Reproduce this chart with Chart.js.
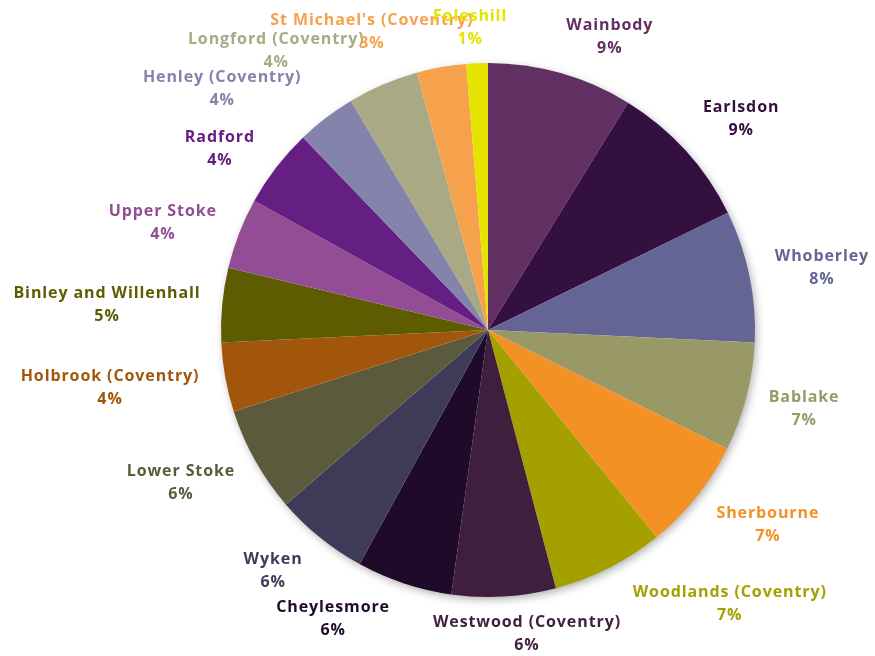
<!DOCTYPE html>
<html>
<head>
<meta charset="utf-8">
<style>
  html, body { margin: 0; padding: 0; background: #fff; }
  #wrap { width: 875px; height: 656px; }
</style>
<script src="https://cdn.jsdelivr.net/npm/chart.js@4/dist/chart.umd.min.js"></script>
</head>
<body>
<div id="wrap"><canvas id="chart1"></canvas></div>
<script>
// wards, clockwise from 12 o'clock
var wards = [
    "Wainbody", "Earlsdon", "Whoberley", "Bablake", "Sherbourne",
    "Woodlands (Coventry)", "Westwood (Coventry)", "Cheylesmore", "Wyken",
    "Lower Stoke", "Holbrook (Coventry)", "Binley and Willenhall", "Upper Stoke",
    "Radford", "Henley (Coventry)", "Longford (Coventry)", "St Michael's (Coventry)",
    "Foleshill"
];
// share of total (%)
var shares = [8.8, 9.0, 8.0, 6.6, 6.8, 6.8, 6.3, 5.8, 5.7, 6.4, 4.2, 4.5, 4.3, 4.8, 3.6, 4.3, 3.0, 1.3];
// percentages as printed on the chart
var shownPct = [9, 9, 8, 7, 7, 7, 6, 6, 6, 6, 4, 5, 4, 4, 4, 4, 3, 1];

var colours = [
    "#622f62", "#341040", "#646495", "#999968", "#f39124",
    "#a3a000", "#3f1f3d", "#1f0a2a", "#3d3b58",
    "#5c5a3c", "#a2560c", "#5e5c00", "#934d94",
    "#651f82", "#8383ab", "#aaa986", "#f6a24c",
    "#e5e400"
];

// label placement: angle (deg, clockwise from top) and distance in pie radii
var labelAngle = [22.6, 50.2, 79.5, 104.0, 124.9, 138.6, 172.7, 208.2, 221.7,
                  243.5, 261.3, 273.8, 288.2, 304.0, 312.2, 322.8, 338.7, 356.6];
var labelDist = [1.187, 1.234, 1.272, 1.220, 1.278, 1.369, 1.148, 1.228, 1.210,
                 1.285, 1.432, 1.430, 1.282, 1.211, 1.344, 1.312, 1.198, 1.133];

var pieShadow = {
    id: 'pieShadow',
    beforeDatasetsDraw: function(chart) {
        var arc = chart.getDatasetMeta(0).data[0];
        var ctx = chart.ctx;
        ctx.save();
        ctx.shadowColor = 'rgba(0,0,0,0.35)';
        ctx.shadowBlur = 10;
        ctx.shadowOffsetX = 2;
        ctx.shadowOffsetY = 3;
        ctx.beginPath();
        ctx.arc(arc.x, arc.y, arc.outerRadius - 1, 0, Math.PI * 2);
        ctx.fillStyle = '#fff';
        ctx.fill();
        ctx.restore();
    }
};

var sliceLabels = {
    id: 'sliceLabels',
    afterDatasetsDraw: function(chart) {
        var ctx = chart.ctx;
        var arcs = chart.getDatasetMeta(0).data;
        ctx.save();
        ctx.font = "bold 16px 'Open Sans'";
        ctx.letterSpacing = "0.9px";
        ctx.textAlign = "center";
        ctx.textBaseline = "middle";
        arcs.forEach(function(el, i) {
            var a = labelAngle[i] * Math.PI / 180;
            var r = el.outerRadius * labelDist[i];
            var x = el.x + r * Math.sin(a);
            var y = el.y - r * Math.cos(a);
            ctx.fillStyle = colours[i];
            ctx.fillText(wards[i], x, y - 11.5);
            ctx.fillText(shownPct[i] + "%", x, y + 11.5);
        });
        ctx.restore();
    }
};

var myPieChart = new Chart(document.getElementById("chart1"), {
    type: 'pie',
    data: {
        labels: wards,
        datasets: [{
            data: shares,
            backgroundColor: colours,
            borderWidth: 0
        }]
    },
    options: {
        responsive: true,
        maintainAspectRatio: false,
        animation: false,
        layout: { padding: { left: 221, right: 120, top: 63, bottom: 59 } },
        plugins: {
            legend: { display: false },
            tooltip: { enabled: false }
        }
    },
    plugins: [pieShadow, sliceLabels]
});
</script>
</body>
</html>
